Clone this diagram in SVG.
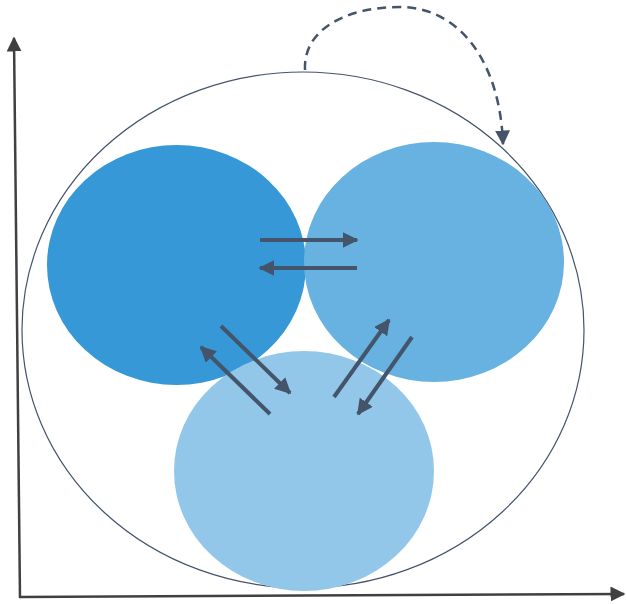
<svg xmlns="http://www.w3.org/2000/svg" width="626" height="604" viewBox="0 0 626 604">
<defs>
<marker id="ah" viewBox="0 0 10 10" refX="9" refY="5" markerWidth="4" markerHeight="4" orient="auto" markerUnits="strokeWidth"><path d="M0,0 L10,5 L0,10 z" fill="#44546a"/></marker>
<marker id="ahd" viewBox="0 0 10 10" refX="9" refY="5" markerWidth="6" markerHeight="6" orient="auto" markerUnits="strokeWidth"><path d="M0,0 L10,5 L0,10 z" fill="#44546a"/></marker>
<marker id="ax" viewBox="0 0 10 10" refX="9" refY="5" markerWidth="6" markerHeight="6" orient="auto" markerUnits="strokeWidth"><path d="M0,0 L10,5 L0,10 z" fill="#404040"/></marker>
<style>
.arr{stroke:#44546a;stroke-width:4;fill:none;marker-end:url(#ah)}
.axis{stroke:#404040;stroke-width:2.5;fill:none;marker-end:url(#ax)}
</style>
</defs>
<g id="axes">
<path class="axis" d="M20,598 L14,38"/>
<path class="axis" d="M19,597 L624,594"/>
</g>
<g id="outer"><ellipse cx="303" cy="330" rx="281" ry="258" fill="#fff" stroke="#44546a" stroke-width="1.2"/></g>
<g id="left"><ellipse cx="176.5" cy="265" rx="129.5" ry="120" fill="#3698d6"/></g>
<g id="right"><ellipse cx="434" cy="262" rx="130" ry="120" fill="#67b2e0"/></g>
<g id="bottom"><ellipse cx="304" cy="471" rx="130" ry="120" fill="#93c7e9"/></g>
<g id="connectors">
<path d="M305,70 C303,30 345,7 400,7 C458,7 500,60 503,144" stroke="#44546a" stroke-width="2.5" fill="none" stroke-dasharray="9,6" marker-end="url(#ahd)"/>
<path class="arr" d="M260,240 L357,240"/>
<path class="arr" d="M357,268 L260,268"/>
<path class="arr" d="M221,326 L290,393"/>
<path class="arr" d="M270,414 L201,347"/>
<path class="arr" d="M334,397 L389,320"/>
<path class="arr" d="M412,337 L358,414"/>
</g>
</svg>
